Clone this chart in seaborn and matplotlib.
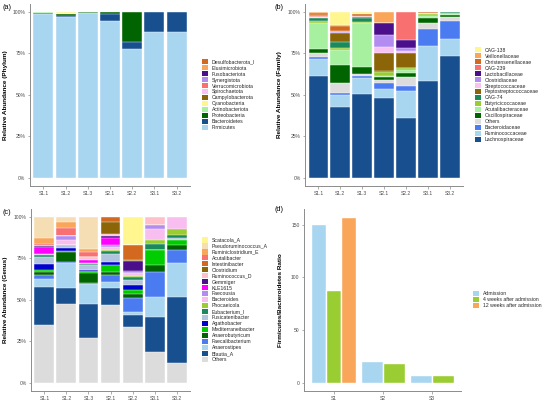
import numpy as np
import pandas as pd
import seaborn as sns
import matplotlib.pyplot as plt
from matplotlib.patches import Patch

samples = ['S1.1', 'S1.2', 'S1.3', 'S2.1', 'S2.2', 'S3.1', 'S3.2']

# taxa listed in legend order (top of stack first), values per sample in %
phylum_taxa = ['Desulfobacterota_I', 'Elusimicrobiota', 'Fusobacteriota', 'Synergistota',
               'Verrucomicrobiota', 'Spirochaetota', 'Campylobacterota', 'Cyanobacteria',
               'Actinobacteriota', 'Proteobacteria', 'Bacteroidetes', 'Firmicutes']
phylum_values = [
  [0, 0, 0, 0, 0, 0, 0],
  [0, 0, 0, 0, 0, 0, 0],
  [0, 0, 0, 0, 0, 0, 0],
  [0, 0, 0, 0, 0, 0, 0],
  [0, 0, 0, 0, 0, 0, 0],
  [0, 0, 0, 0, 0, 0, 0],
  [0, 0, 0, 0, 0, 0, 0],
  [0.2, 1.0, 0, 0, 0, 0, 0],
  [0.2, 0.1, 0.1, 0.1, 0.1, 0, 0],
  [0.7, 1.6, 0.3, 1.2, 18.1, 0.3, 0.2],
  [0.4, 0.4, 0.4, 4.3, 4.0, 11.7, 11.8],
  [98.5, 96.9, 99.2, 94.4, 77.8, 88.0, 88.0],
]
phylum_colors = ['#D2691E', '#F9A65A', '#4B0F8C', '#B38CF2', '#F87070', '#F8C3F0',
                 '#8B6508', '#FFF68F', '#A6F0A0', '#006400', '#174F8F', '#A8D5F0']

family_taxa = ['CAG-138', 'Veillonellaceae', 'Christensenellaceae', 'CAG-239', 'Lactobacillaceae',
               'Clostridiaceae', 'Streptococcaceae', 'Peptostreptococcaceae', 'CAG-74',
               'Butyricicoccaceae', 'Acutalibacteraceae', 'Oscillospiraceae', 'Others',
               'Bacteroidaceae', 'Ruminococcaceae', 'Lachnospiraceae']
family_values = [
  [0.3, 7.8, 1.2, 0, 0, 0, 0],
  [0.5, 0.6, 0.3, 6.8, 0, 0, 0],
  [1.2, 3.2, 1.2, 0, 0, 0.5, 0],
  [0.8, 0.4, 0.4, 0, 17.0, 0.5, 0],
  [0, 0, 0, 7.0, 5.0, 0, 0],
  [0.3, 0.5, 0, 7.6, 1.6, 0, 0],
  [0.3, 0.5, 0, 3.4, 1.4, 0, 0],
  [0.3, 5.0, 0.8, 11.0, 8.6, 0.5, 0],
  [1.6, 4.0, 2.4, 0.6, 0.4, 0, 0.8],
  [1.2, 1.0, 0.6, 2.0, 1.0, 1.0, 0.6],
  [15.7, 9.0, 26.1, 0.8, 1.6, 1.0, 0.6],
  [2.8, 11.0, 4.4, 1.6, 2.4, 3.4, 1.0],
  [2.4, 6.0, 1.0, 2.0, 5.4, 3.4, 2.3],
  [1.0, 1.0, 1.2, 4.0, 3.2, 10.0, 11.2],
  [10.0, 7.4, 10.0, 5.0, 16.1, 21.3, 9.8],
  [61.6, 42.6, 50.4, 48.2, 36.3, 58.4, 73.7],
]
family_colors = ['#FFF68F', '#F9A65A', '#D2691E', '#F87070', '#4B0F8C', '#B38CF2', '#F8C3F0',
                 '#8B6508', '#1A8A5A', '#9ACD32', '#A6F0A0', '#006400', '#DCDCDC',
                 '#4A7BF0', '#A8D5F0', '#174F8F']

genus_taxa = ['Scatacola_A', 'Pseudoruminococcus_A', 'Ruminiclostridium_E', 'Acutalibacter',
              'Intestinibacter', 'Clostridium', 'Ruminococcus_D', 'Gemmiger', 'KLE1615',
              'Faecousia', 'Bacteroides', 'Phocaeicola', 'Eubacterium_I', 'Fusicatenibacter',
              'Agathobacter', 'Mediterraneibacter', 'Anaerobutyricum', 'Faecalibacterium',
              'Anaerostipes', 'Blautia_A', 'Others']
genus_values = [
  [0, 0, 0, 0, 17.1, 0, 0],
  [12.8, 3.0, 19.1, 0, 0, 0, 0],
  [3.4, 3.4, 2.0, 0, 0, 0, 0],
  [1.4, 5.4, 3.0, 0, 0, 0, 0],
  [0, 0, 0, 3.0, 8.6, 0, 0],
  [0, 0, 0, 7.4, 0.8, 0, 0],
  [0, 0, 2.0, 1.0, 0.4, 5.1, 0],
  [0.6, 0, 0, 1.2, 6.0, 0, 0],
  [4.0, 0, 1.6, 4.4, 0.4, 0, 0],
  [0.6, 2.0, 1.0, 1.2, 0.6, 2.0, 0],
  [0, 3.0, 0, 1.6, 1.6, 6.6, 7.6],
  [0.4, 0, 0, 1.0, 0.6, 2.4, 3.2],
  [1.0, 0, 0.5, 1.6, 2.0, 3.6, 2.0],
  [4.0, 2.0, 3.0, 4.8, 3.0, 0, 0.9],
  [4.0, 2.0, 0.5, 1.6, 3.2, 0, 0],
  [1.0, 0.5, 1.0, 4.4, 2.0, 9.4, 3.4],
  [2.0, 6.0, 6.0, 2.0, 2.4, 4.0, 2.6],
  [2.0, 0.4, 0.5, 4.0, 8.6, 15.5, 8.0],
  [5.0, 14.9, 12.4, 3.4, 1.6, 12.0, 20.9],
  [22.7, 10.0, 20.7, 10.6, 7.4, 20.7, 39.8],
  [35.1, 47.4, 26.7, 46.8, 33.7, 18.7, 11.6],
]
genus_colors = ['#FFF68F', '#F5DEB3', '#F9A65A', '#F87070', '#D2691E', '#8B6508', '#FFC0CB',
                '#4B0F8C', '#FF00FF', '#B38CF2', '#F8BEF0', '#9ACD32', '#1A8A5A', '#B0C4DE',
                '#0000CD', '#00CD00', '#006400', '#4A7BF0', '#A8D5F0', '#174F8F', '#DCDCDC']

# panel d: Firmicutes/Bacteroidetes ratio
ratio_subject = ['S1', 'S1', 'S1', 'S2', 'S2', 'S3', 'S3']
ratio_time = ['Admission', '4 weeks after admission', '12 weeks after admission',
              'Admission', '4 weeks after admission',
              'Admission', '4 weeks after admission']
ratio_values = [150.5, 88.3, 157.6, 20.2, 18.7, 6.9, 6.9]
time_levels = ['Admission', '4 weeks after admission', '12 weeks after admission']
time_colors = ['#A8D5F0', '#9ACD32', '#F9A65A']

sns.set_theme(style='ticks')
plt.rcParams['font.family'] = ['Liberation Sans', 'DejaVu Sans']

TICK_COL = '#4D4D4D'
AX_COL = '#8C8C8C'


def style_axis(ax, ylabel, label_x):
  for side in ['top', 'right']:
    ax.spines[side].set_visible(False)
  for side in ['left', 'bottom']:
    ax.spines[side].set_color(AX_COL)
    ax.spines[side].set_linewidth(0.7)
  ax.tick_params(axis='both', labelsize=3.6, colors=AX_COL, labelcolor=TICK_COL,
                 length=1.8, width=0.5, pad=1.5)
  ax.set_xlabel('')
  ax.set_ylabel(ylabel, fontsize=4.6, fontweight='bold', color='black')
  ax.yaxis.set_label_coords(label_x, 0.5)


def stacked(ax, taxa, values, colors, ylabel, label_x):
  vals = np.array(values, dtype=float)[::-1]      # bottom of stack first
  cols = colors[::-1]
  cum = np.cumsum(vals, axis=0)
  for i in range(len(vals) - 1, -1, -1):
    sns.barplot(x=samples, y=cum[i], color=cols[i], width=0.9, saturation=1,
                edgecolor='white', linewidth=0.3, errorbar=None, ax=ax)
  ax.set_xlim(-0.6, len(samples) - 0.4)
  ax.set_ylim(-5, 105)
  ax.set_yticks([0, 25, 50, 75, 100])
  ax.set_yticklabels(['0%', '25%', '50%', '75%', '100%'])
  style_axis(ax, ylabel, label_x)
  handles = [Patch(facecolor=c, edgecolor='none') for c in colors]
  ax.legend(handles, taxa, loc='center left', bbox_to_anchor=(1.075, 0.5), frameon=False,
            fontsize=3.7, handlelength=1.2, handleheight=1.2, labelspacing=0.12,
            handletextpad=0.7, borderpad=0, borderaxespad=0)


fig = plt.figure(figsize=(5.46, 4.0), dpi=100)
ax_a = fig.add_axes([0.055, 0.535, 0.293, 0.456])
ax_b = fig.add_axes([0.559, 0.535, 0.289, 0.456])
ax_c = fig.add_axes([0.057, 0.0225, 0.291, 0.456])
ax_d = fig.add_axes([0.557, 0.0225, 0.288, 0.456])

stacked(ax_a, phylum_taxa, phylum_values, phylum_colors, 'Relative Abundance (Phylum)', -0.14)
stacked(ax_b, family_taxa, family_values, family_colors, 'Relative Abundance (Family)', -0.15)
stacked(ax_c, genus_taxa, genus_values, genus_colors, 'Relative Abundance (Genus)', -0.145)

# panel d: dodge within each subject over the time points it has
df = pd.DataFrame({'subject': ratio_subject, 'time': ratio_time, 'ratio': ratio_values})
subjects = list(dict.fromkeys(ratio_subject))
pal = dict(zip(time_levels, time_colors))
for s in subjects:
  sub = df[df['subject'] == s]
  present = [t for t in time_levels if t in set(sub['time'])]
  sns.barplot(data=sub, x='subject', y='ratio', hue='time', order=subjects,
              hue_order=present, palette=pal, width=0.9, saturation=1,
              edgecolor='white', linewidth=1.0, errorbar=None, legend=False, ax=ax_d)
ax_d.set_xlim(-0.6, len(subjects) - 0.4)
ax_d.set_ylim(-7.9, 165.5)
ax_d.set_yticks([0, 50, 100, 150])
style_axis(ax_d, 'Firmicutes/Bacteroidetes Ratio', -0.134)
handles = [Patch(facecolor=c, edgecolor='none') for c in time_colors]
ax_d.legend(handles, time_levels, loc='center left', bbox_to_anchor=(1.075, 0.5), frameon=False,
            fontsize=3.7, handlelength=1.2, handleheight=1.2, labelspacing=0.12,
            handletextpad=0.7, borderpad=0, borderaxespad=0)

for txt, x, y in [('(a)', 0.004, 0.99), ('(b)', 0.503, 0.99), ('(c)', 0.004, 0.477), ('(d)', 0.503, 0.485)]:
  fig.text(x, y, txt, fontsize=5.2, va='top', ha='left', color='black')

plt.savefig('out.png', dpi=100)
